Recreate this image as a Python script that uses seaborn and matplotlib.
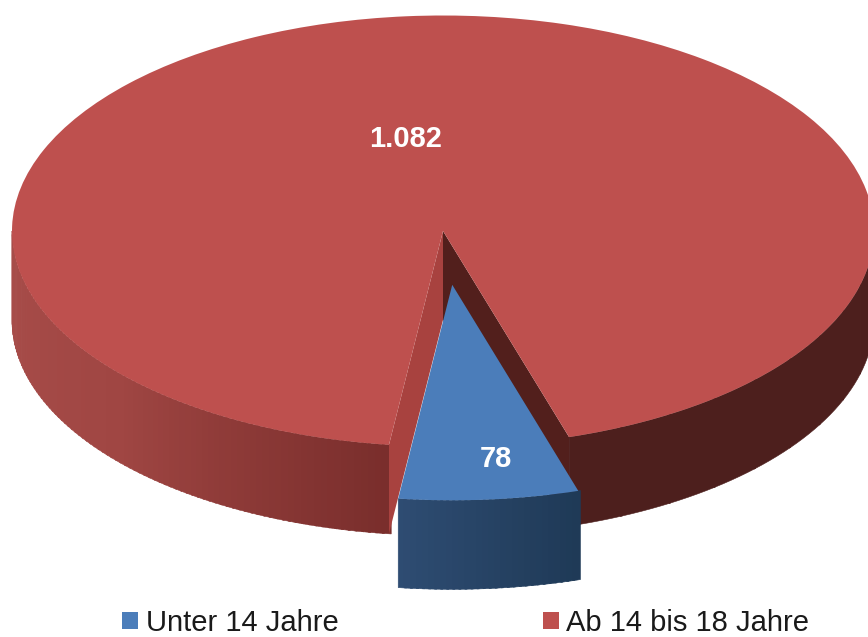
import numpy as np
import matplotlib
matplotlib.use('Agg')
import matplotlib.pyplot as plt
from matplotlib.transforms import Affine2D
import seaborn as sns

categories = ["Unter 14 Jahre", "Ab 14 bis 18 Jahre"]
values = [78, 1082]
value_labels = ["78", "1.082"]

sns.set_theme(style="white")
plt.rcParams['font.family'] = ['Liberation Sans', 'DejaVu Sans']

W, H = 868, 637
CX, CY = 443, H - 231   # pie centre, y counted from the bottom
RADIUS = 431
SQUASH = 0.5
DEPTH = 89

top_colors = ["#4B7DBA", "#BE504E"]
blue_side = sns.blend_palette(["#2E4C72", "#1F3A57"], 30)
red_side_left = sns.blend_palette(["#A84D4A", "#A04643", "#7A2E2C"], 90)
red_side_right = "#4D1F1D"
wall_left = "#A8423F"
wall_right = "#521F1C"

fig = plt.figure(figsize=(W / 100, H / 100), dpi=100)
ax = fig.add_axes([0, 0, 1, 1])

wedges, _ = ax.pie(values, colors=top_colors, startangle=262.8, radius=RADIUS,
                   center=(CX, CY), explode=[108, 0], frame=True,
                   wedgeprops={"linewidth": 0, "zorder": 5})
ax.set_aspect("auto")
ax.set_xlim(0, W)
ax.set_ylim(0, H)
ax.axis("off")

# flatten the round pie to the tilted ellipse
tilt = Affine2D().translate(0, -CY).scale(1, SQUASH).translate(0, CY) + ax.transData
for w in wedges:
    w.set_transform(tilt)
blue, red = wedges


def rim(wedge, deg):
    a = np.radians(deg)
    cx, cy = wedge.center
    y0 = CY + (cy - CY) * SQUASH
    return cx + wedge.r * np.cos(a), y0 + wedge.r * SQUASH * np.sin(a)


def apex(wedge):
    cx, cy = wedge.center
    return cx, CY + (cy - CY) * SQUASH


def band(wedge, start, stop, colors, zorder):
    # outer wall, cut in thin pieces so the colour can run along it
    edges = np.linspace(start, stop, len(colors) + 1)
    for i, c in enumerate(colors):
        d = np.linspace(edges[i], edges[i + 1] + 0.3, 6)
        x, y = rim(wedge, d)
        ax.fill(np.r_[x, x[::-1]], np.r_[y, y[::-1] - DEPTH], color=c, lw=0.4, zorder=zorder)


def wall(wedge, deg, color, zorder):
    ax0, ay0 = apex(wedge)
    x, y = rim(wedge, deg)
    ax.fill([ax0, x, x, ax0], [ay0, y, y - DEPTH, ay0 - DEPTH], color=color, lw=0, zorder=zorder)


# red slice: visible part of the wall is on both sides of the gap
band(red, 180, red.theta2 - 360, red_side_left, 1)
band(red, red.theta1, 360, [red_side_right] * 10, 1)
wall(red, red.theta1, wall_right, 2)
wall(red, red.theta2, wall_left, 2)

# blue slice sits in front
band(blue, blue.theta1, blue.theta2, blue_side, 6)
blue.set_zorder(7)

ax.text(406, H - 139, value_labels[1], color="white", fontsize=21, fontweight="bold",
        ha="center", va="center", zorder=9)
ax.text(496, H - 459, value_labels[0], color="white", fontsize=21, fontweight="bold",
        ha="center", va="center", zorder=9)

ax.legend(wedges, categories, ncol=2, loc="lower left", bbox_to_anchor=(99 / W, -23 / H),
          frameon=False, fontsize=21, labelcolor="#1a1a1a", handlelength=0.55,
          handleheight=0.5, handletextpad=0.25, columnspacing=7.0, borderpad=0.3)

fig.savefig("out.png", dpi=100)
